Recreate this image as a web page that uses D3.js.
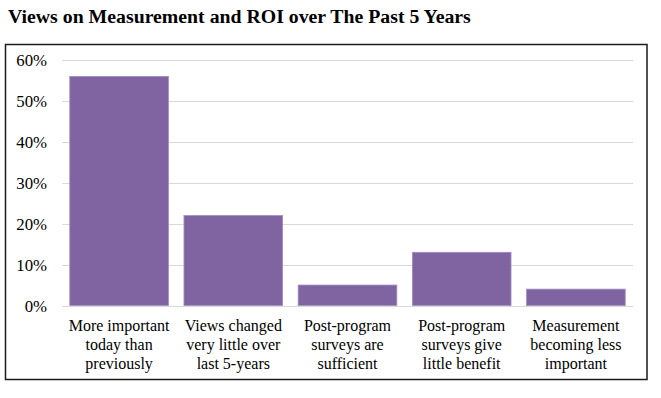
<!DOCTYPE html>
<html>
<head>
<meta charset="utf-8">
<script src="https://cdn.jsdelivr.net/npm/d3@7"></script>
<style>
  html, body { margin: 0; padding: 0; background: #fff; }
  svg { display: block; }
</style>
</head>
<body>
<svg id="chart" width="661" height="398"></svg>
<script>
const title = "Views on Measurement and ROI over The Past 5 Years";
const categories = [
  ["More important", "today than", "previously"],
  ["Views changed", "very little over", "last 5-years"],
  ["Post-program", "surveys are", "sufficient"],
  ["Post-program", "surveys give", "little benefit"],
  ["Measurement", "becoming less", "important"]
];
const values = [0.56, 0.22, 0.05, 0.13, 0.04];
const yTicks = [0, 0.1, 0.2, 0.3, 0.4, 0.5, 0.6];

const svg = d3.select("#chart");
const font = "'Liberation Serif', 'Times New Roman', serif";

// title
svg.append("text")
  .attr("x", 8).attr("y", 22.5)
  .attr("font-family", font).attr("font-weight", "bold")
  .attr("font-size", 19.8)
  .attr("fill", "#000")
  .text(title);

// outer border
svg.append("rect")
  .attr("x", 5.5).attr("y", 44.5)
  .attr("width", 641.5).attr("height", 335)
  .attr("fill", "none").attr("stroke", "#1a1a1a").attr("stroke-width", 1.5);

const plot = { left: 62, right: 633, top: 60, bottom: 305.5 };

const x = d3.scaleBand()
  .domain(d3.range(values.length))
  .range([plot.left, plot.right])
  .paddingInner(0.136)
  .paddingOuter(0.068);

const y = d3.scaleLinear()
  .domain([0, 0.6])
  .range([plot.bottom, plot.top]);

// gridlines
svg.append("g")
  .selectAll("line")
  .data(yTicks)
  .join("line")
  .attr("x1", plot.left).attr("x2", plot.right)
  .attr("y1", d => Math.round(y(d)) + 0.5).attr("y2", d => Math.round(y(d)) + 0.5)
  .attr("stroke", "#d9d9d9").attr("stroke-width", 1);

// y axis labels
const yAxis = d3.axisLeft(y).tickValues(yTicks).tickFormat(d3.format(".0%")).tickSize(0).tickPadding(0);
const yg = svg.append("g").attr("transform", `translate(${47},0)`).call(yAxis);
yg.select(".domain").remove();
yg.selectAll("text")
  .attr("font-family", font).attr("font-size", 16.8).attr("fill", "#000")
  .attr("dy", "0.35em");

// bars
svg.append("g")
  .selectAll("rect")
  .data(values)
  .join("rect")
  .attr("x", (d, i) => x(i))
  .attr("width", x.bandwidth())
  .attr("y", d => y(d))
  .attr("height", d => y(0) - y(d))
  .attr("fill", "#8064a2")
  .attr("stroke", "#a08fc0").attr("stroke-width", 0.8);

// category labels
const cg = svg.append("g");
categories.forEach((lines, i) => {
  const t = cg.append("text")
    .attr("x", x(i) + x.bandwidth() / 2)
    .attr("y", 331)
    .attr("text-anchor", "middle")
    .attr("font-family", font).attr("font-size", 16)
    .attr("fill", "#000");
  lines.forEach((ln, j) => {
    t.append("tspan")
      .attr("x", x(i) + x.bandwidth() / 2)
      .attr("dy", j === 0 ? 0 : 18.8)
      .text(ln);
  });
});
</script>
</body>
</html>
